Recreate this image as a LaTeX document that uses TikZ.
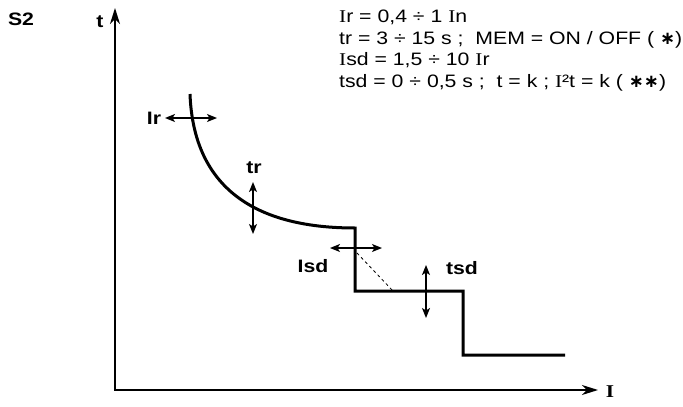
\documentclass[tikz,border=0pt]{standalone}
\usepackage{fontspec}
\setmainfont{Liberation Sans}[FakeStretch=1.18]
\newfontfamily\serifI{Liberation Serif}[FakeStretch=1.18]
\newfontfamily\symfont{DejaVu Sans}
\usetikzlibrary{arrows.meta,positioning}
\newcommand{\sI}{{\serifI I}}
\newcommand{\astr}{{\symfont\bfseries ∗}}

\begin{document}
\begin{tikzpicture}[x=1pt,y=-1pt,
  axis/.style={line width=1.5pt,{Stealth[length=16pt,width=10pt,inset=5pt]}-{Stealth[length=16pt,width=10pt,inset=5pt]}},
  trip/.style={line width=3pt,line join=miter},
  knob/.style={line width=1.4pt,{Stealth[length=10pt,width=8pt,inset=2.5pt]}-{Stealth[length=10pt,width=8pt,inset=2.5pt]}},
  lbl/.style={font=\fontsize{18}{21.5}\selectfont\bfseries,inner sep=0pt}]
  \useasboundingbox (0,0) rectangle (683,407);
  % axes
  \coordinate (o) at (115,390);
  \coordinate (t_top) at (115,8);
  \coordinate (i_end) at (598,390);
  \draw[axis] (t_top) -- (o) -- (i_end);
  \node[lbl] (t_lbl) at (100,22) {t};
  \node[lbl] (i_lbl) at (610,392) {\serifI\bfseries I};
  \node[lbl] (s2) at (21,19) {S2};
  % trip curve
  \coordinate (c_start) at (190,94);
  \coordinate (c_knee) at (355,228);
  \coordinate (sd_top) at (355,291);
  \coordinate (sd_end) at (463,291);
  \coordinate (ii_top) at (463,355);
  \coordinate (c_end) at (565,355);
  \draw[trip] (c_start) .. controls (193,175) and (240,228) .. (c_knee)
    -- (sd_top) -- (sd_end) -- (ii_top) -- (c_end);
  \coordinate (i2t_a) at (357,253);
  \coordinate (i2t_b) at (393,291);
  \draw[dashed,line width=0.8pt] (i2t_a) -- (i2t_b);
  % setting knobs
  \coordinate (ir_l) at (165,118);
  \coordinate (ir_r) at (217,118);
  \coordinate (tr_u) at (253,182);
  \coordinate (tr_d) at (253,234);
  \coordinate (isd_l) at (330,248);
  \coordinate (isd_r) at (382,248);
  \coordinate (tsd_u) at (426,265);
  \coordinate (tsd_d) at (426,318);
  \draw[knob] (ir_l) -- (ir_r);
  \draw[knob] (tr_u) -- (tr_d);
  \draw[knob] (isd_l) -- (isd_r);
  \draw[knob] (tsd_u) -- (tsd_d);
  \node[lbl] (ir) at (154,118) {Ir};
  \node[lbl] (tr) at (254,168) {tr};
  \node[lbl] (isd) at (313,266) {Isd};
  \node[lbl] (tsd) at (462,268) {tsd};
  % ranges
  \node[font=\fontsize{18}{21.5}\selectfont,align=left,inner sep=0pt,anchor=north west] (ranges) at (339,10)
    {\sI r = 0,4 ÷ 1 \sI n\\
     tr = 3 ÷ 15 s ;~ MEM = ON / OFF ( \astr)\\
     \sI sd = 1,5 ÷ 10 \sI r\\
     tsd = 0 ÷ 0,5 s ;~ t = k ; \sI²t = k ( \astr\astr)};
\end{tikzpicture}
\end{document}
